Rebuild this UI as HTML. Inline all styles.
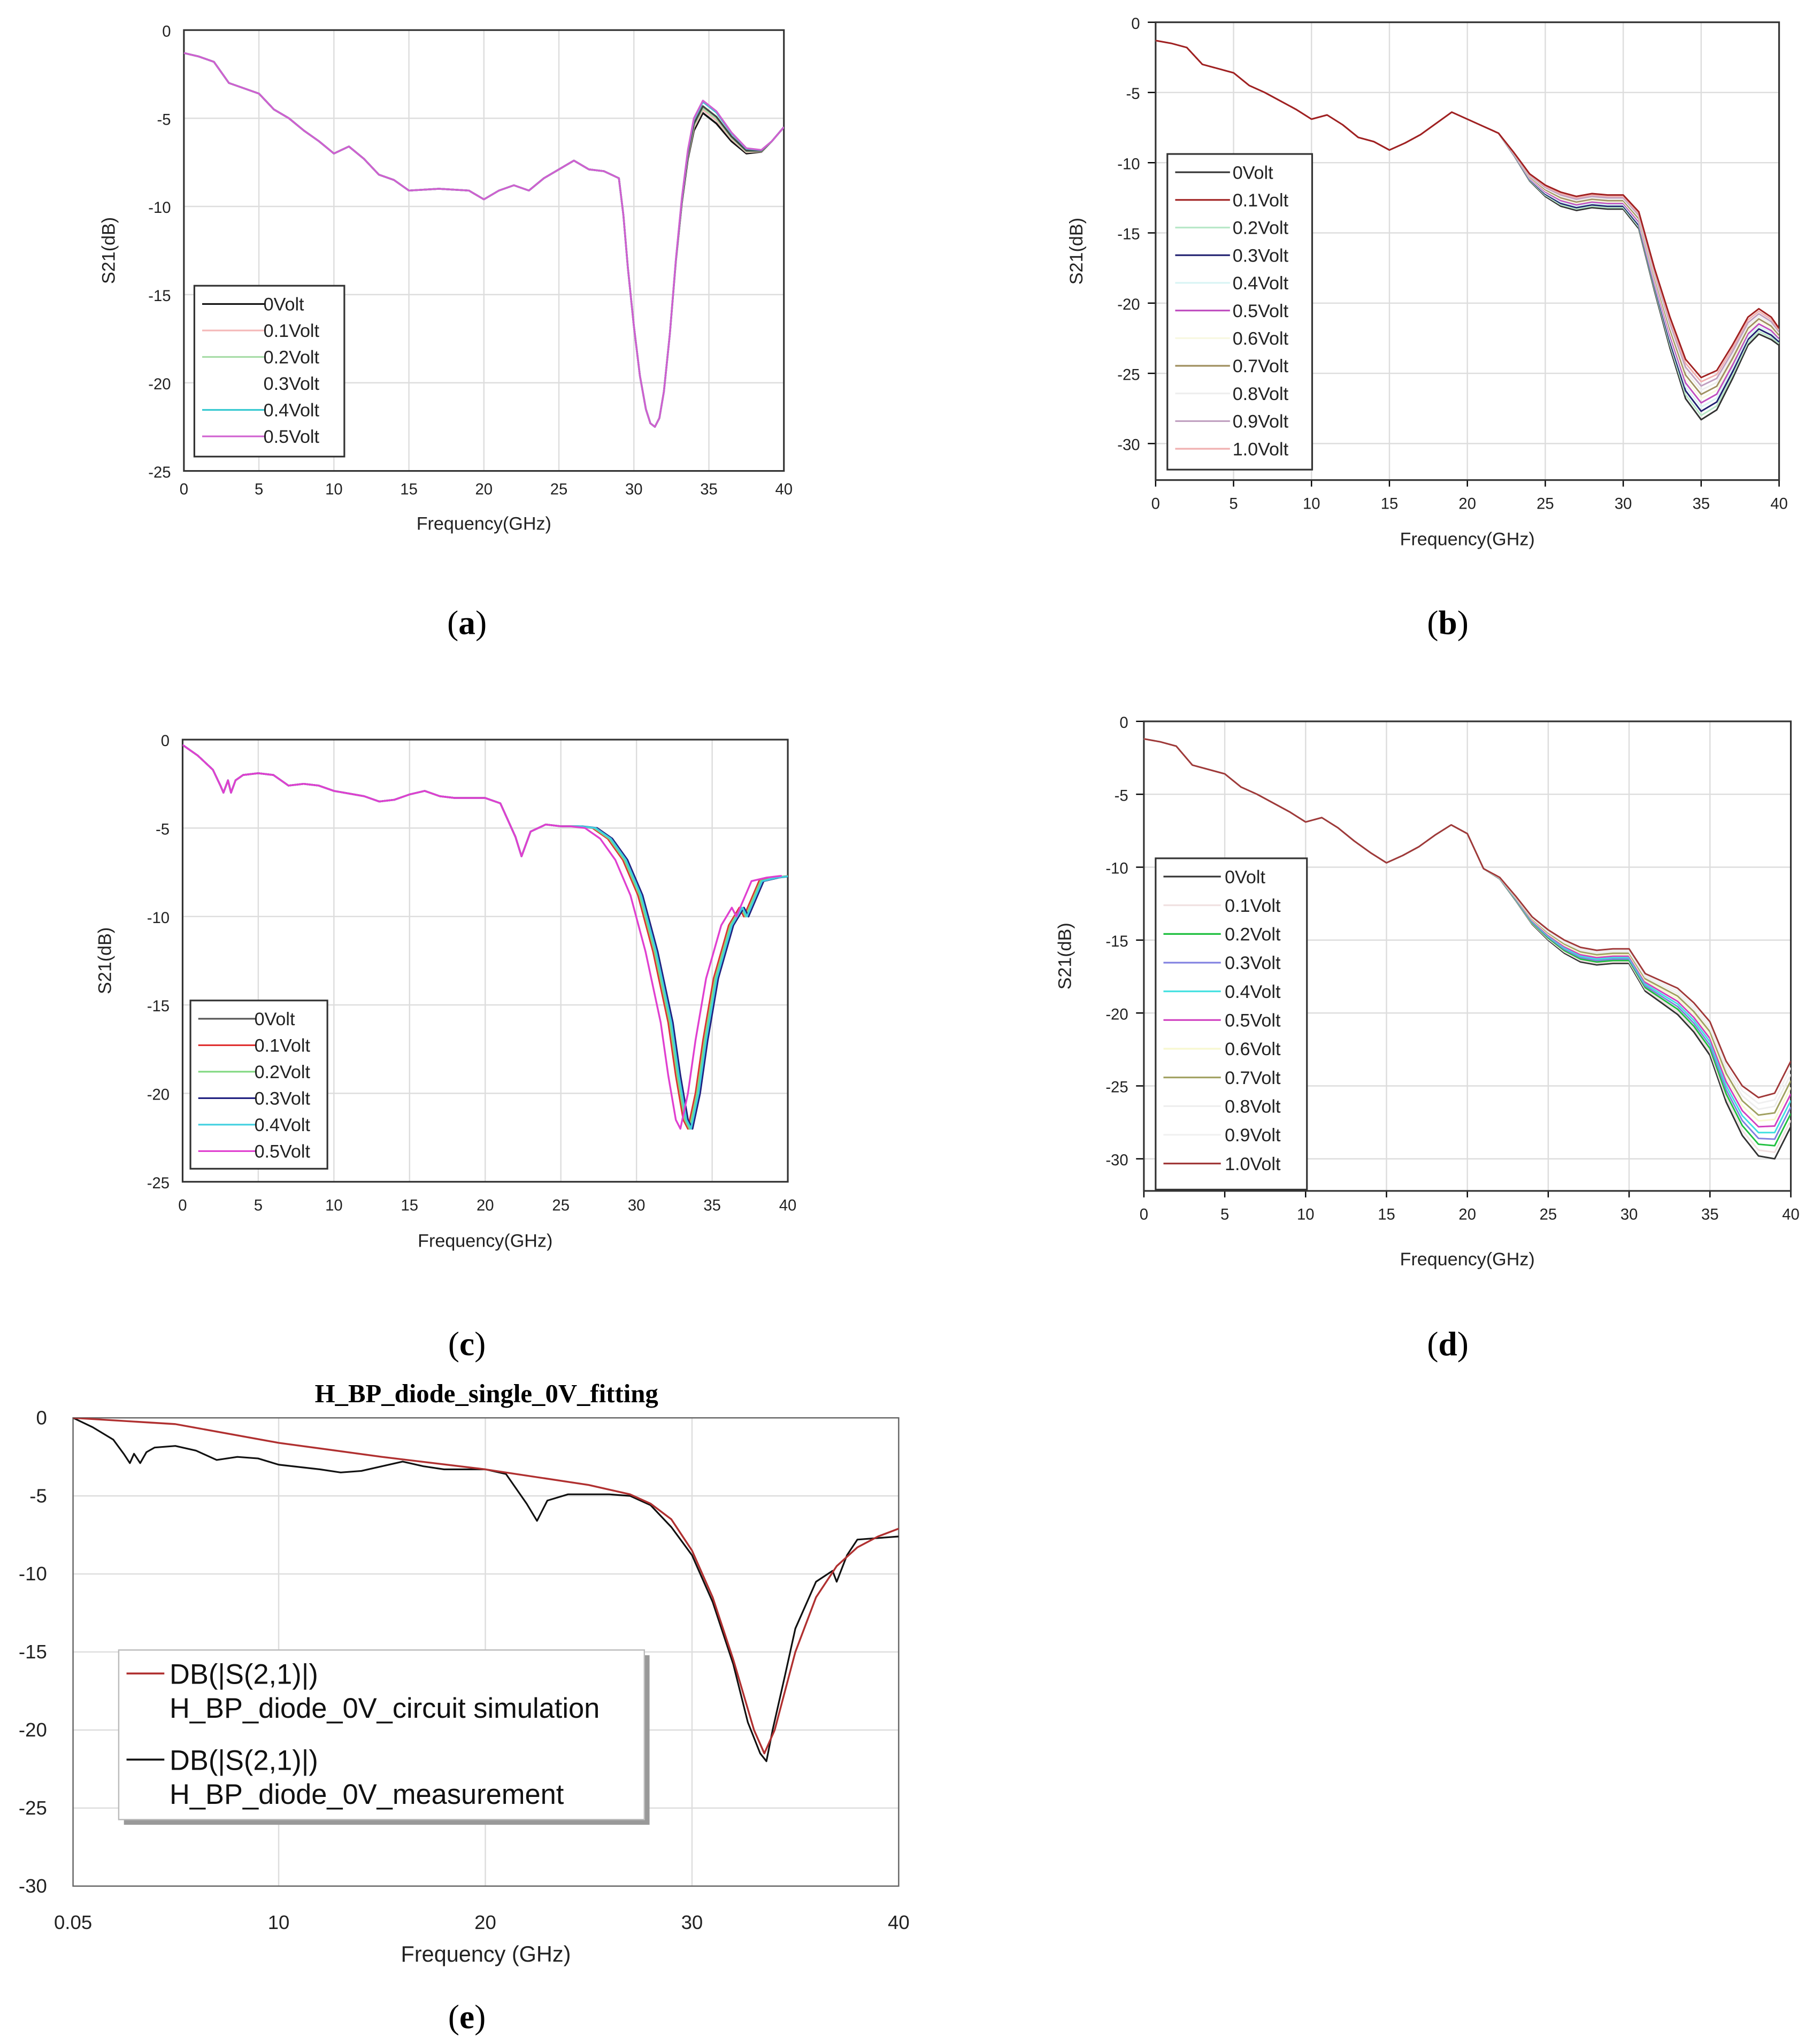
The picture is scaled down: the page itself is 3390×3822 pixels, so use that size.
<!DOCTYPE html>
<html><head><meta charset="utf-8">
<style>
html,body{margin:0;padding:0;background:#fff;}
svg{display:block;}
text{font-family:"Liberation Sans",Arial,sans-serif;}
.cap{font-family:"Liberation Serif",serif;font-size:26px;}
.ttl{font-family:"Liberation Serif",serif;}
</style></head>
<body>
<svg id="fig" width="3390" height="3822" viewBox="0 0 1390 1567" xmlns="http://www.w3.org/2000/svg">
<rect width="1390" height="1567" fill="#fff"/>
</svg>
<script>
// ---------- DATA ----------
// Panel (a)
const freqA = [0,1,2,3,4,5,6,7,8,9,10,11,12,13,14,15,17,19,20,21,22,23,24,25,26,27,28,29,29.3,29.6,30,30.4,30.8,31.1,31.4,31.7,32,32.4,32.8,33.2,33.6,34,34.6,35.5,36.5,37.5,38.5,39.2,40];
const valsA = [-1.3,-1.5,-1.8,-3,-3.3,-3.6,-4.5,-5.0,-5.7,-6.3,-7.0,-6.6,-7.3,-8.2,-8.5,-9.1,-9.0,-9.1,-9.6,-9.1,-8.8,-9.1,-8.4,-7.9,-7.4,-7.9,-8.0,-8.4,-10.5,-13.5,-16.8,-19.6,-21.5,-22.3,-22.5,-22.0,-20.5,-17.2,-13.0,-9.5,-6.8,-5.0,-4.0,-4.6,-5.8,-6.7,-6.8,-6.3,-5.5];
const spreadA = [0,0,0,0,0,0,0,0,0,0,0,0,0,0,0,0,0,0,0,0,0,0,0,0,0,0,0,0,0,0,0,0,0,0,0,0,0,0,0.1,0.3,0.5,0.7,0.7,0.7,0.5,0.3,0.1,0,0];
const seriesA = ["0Volt","0.1Volt","0.2Volt","0.3Volt","0.4Volt","0.5Volt"];
const levelA = [1,0.75,0.6,0.45,0.1,0];
const colorsA = ["#111","#f4b8b8","#a6dca6","#fff","#33c8d0","#d060d0"];

// Panel (b)
const freqB = [0,1,2,3,4,5,6,7,8,9,10,11,12,13,14,15,16,17,18,19,20,21,22,23,24,25,26,27,28,29,30,31,32,33,34,35,36,37,38,38.7,39.5,40];
const valsB = [-1.3,-1.5,-1.8,-3,-3.3,-3.6,-4.5,-5.0,-5.6,-6.2,-6.9,-6.6,-7.3,-8.2,-8.5,-9.1,-8.6,-8.0,-7.2,-6.4,-6.9,-7.4,-7.9,-9.3,-10.8,-11.6,-12.1,-12.4,-12.2,-12.3,-12.3,-13.5,-17.5,-21,-24,-25.3,-24.8,-23,-21,-20.4,-21,-21.8];
const spreadB = [0,0,0,0,0,0,0,0,0,0,0,0,0,0,0,0,0,0,0,0,0,0,0,0.2,0.5,0.8,1.0,1.0,1.0,1.0,1.0,1.2,1.6,2.2,2.8,3.0,2.8,2.4,2.0,1.8,1.6,1.2];
const seriesB = ["0Volt","0.1Volt","0.2Volt","0.3Volt","0.4Volt","0.5Volt","0.6Volt","0.7Volt","0.8Volt","0.9Volt","1.0Volt"];
const levelB = [1,0,0.9,0.8,0.7,0.6,0.5,0.4,0.3,0.2,0.1];
const colorsB = ["#333","#a02020","#b8e8c8","#202070","#d8f4f4","#c050c0","#f8f8e0","#a09060","#eee","#c0a0c0","#f0b0b0"];
const drawOrderB = [0,2,3,4,5,6,7,8,9,10,1];

// Panel (c)
const freqC = [0,1,2,2.5,2.7,3,3.2,3.5,4,5,6,7,8,9,10,12,13,14,15,16,17,18,19,20,21,22,22.4,23,24,25,26,27,28,29,30,31,32,32.5,33,33.3,33.8,34.3,35,36,36.7,37,37.5,38,39,40];
const valsC = [-0.3,-0.9,-1.7,-2.6,-3.0,-2.3,-3.0,-2.3,-2.0,-1.9,-2.0,-2.6,-2.5,-2.6,-2.9,-3.2,-3.5,-3.4,-3.1,-2.9,-3.2,-3.3,-3.3,-3.3,-3.6,-5.5,-6.6,-5.2,-4.8,-4.9,-4.9,-5.0,-5.6,-6.8,-8.8,-12,-16,-19,-21.5,-22,-20,-17,-13.5,-10.5,-9.5,-10,-9,-8,-7.8,-7.7];
const seriesC = ["0Volt","0.1Volt","0.2Volt","0.3Volt","0.4Volt","0.5Volt"];
const shiftC = [0.2,0.1,0.2,0.4,0.3,-0.4];
const colorsC = ["#555","#e03030","#80d880","#202080","#40d0e0","#e040d0"];

// Panel (d)
const freqD = [0,1,2,3,4,5,6,7,8,9,10,11,12,13,14,15,16,17,18,19,20,21,22,23,24,25,26,27,28,29,30,31,32,33,34,35,36,37,38,39,40];
const valsD = [-1.2,-1.4,-1.7,-3,-3.3,-3.6,-4.5,-5.0,-5.6,-6.2,-6.9,-6.6,-7.3,-8.2,-9.0,-9.7,-9.2,-8.6,-7.8,-7.1,-7.7,-10.1,-10.7,-12,-13.4,-14.3,-15.0,-15.5,-15.7,-15.6,-15.6,-17.3,-17.8,-18.3,-19.3,-20.6,-23.3,-25,-25.8,-25.5,-23.3];
const spreadD = [0,0,0,0,0,0,0,0,0,0,0,0,0,0,0,0,0,0,0,0,0,0,0.1,0.3,0.5,0.7,0.9,1.0,1.0,1.0,1.0,1.2,1.5,1.8,2.0,2.3,2.8,3.4,4.0,4.5,4.5];
const seriesD = ["0Volt","0.1Volt","0.2Volt","0.3Volt","0.4Volt","0.5Volt","0.6Volt","0.7Volt","0.8Volt","0.9Volt","1.0Volt"];
const levelD = [1,0.9,0.8,0.7,0.6,0.5,0.4,0.3,0.2,0.1,0];
const colorsD = ["#333","#f0e0e0","#20c040","#8080e0","#40e0e0","#d040c0","#f8f8d0","#a0a060","#eee","#f0f0f0","#a03838"];

// Panel (e)
const freqEsim = [0.05,5,10,15,20,25,27,28,29,30,31,32,33,33.5,34,35,36,37,38,39,40];
const valsEsim = [0,-0.4,-1.6,-2.5,-3.3,-4.3,-4.9,-5.5,-6.5,-8.5,-11.5,-15.5,-20,-21.5,-20,-15,-11.5,-9.5,-8.3,-7.6,-7.1];
const freqEmeas = [0.05,1,2,2.5,2.8,3,3.3,3.6,4,5,6,7,8,9,10,12,13,14,15,16,17,18,19,20,21,22,22.5,23,24,25,26,27,28,29,30,31,32,32.7,33.3,33.6,33.9,34.5,35,36,36.8,37,37.5,38,39,40];
const valsEmeas = [0,-0.6,-1.4,-2.3,-2.9,-2.3,-2.9,-2.2,-1.9,-1.8,-2.1,-2.7,-2.5,-2.6,-3.0,-3.3,-3.5,-3.4,-3.1,-2.8,-3.1,-3.3,-3.3,-3.3,-3.6,-5.5,-6.6,-5.3,-4.9,-4.9,-4.9,-5.0,-5.6,-7.0,-8.8,-11.8,-15.8,-19.5,-21.5,-22,-20,-16.5,-13.5,-10.5,-9.8,-10.5,-8.8,-7.8,-7.7,-7.6];
const ticksAC = [0,5,10,15,20,25,30,35,40];
const ticksYA = [0,-5,-10,-15,-20,-25];
const ticksYB = [0,-5,-10,-15,-20,-25,-30];
const ticksXE = [0.05,10,20,30,40];
const ticksXElbl = ["0.05","10","20","30","40"];
const ticksYE = [0,-5,-10,-15,-20,-25,-30];

// ---------- DRAWING ----------
const NS="http://www.w3.org/2000/svg";
const svg=document.getElementById('fig');
const defs=document.createElementNS(NS,'defs');svg.appendChild(defs);
function mk(tag,attrs,parent,txt){const e=document.createElementNS(NS,tag);for(const k in attrs)e.setAttribute(k,attrs[k]);if(txt!==undefined)e.textContent=txt;(parent||svg).appendChild(e);return e;}

function panel(p){
  const g=mk('g',{});
  
  
  const sx=f=>p.x0+(f-p.fmin)/(p.fmax-p.fmin)*(p.x1-p.x0);
  const sy=v=>p.y0+(v-p.vmax)/(p.vmin-p.vmax)*(p.y1-p.y0);
  p.sx=sx;p.sy=sy;
  const cp=mk('clipPath',{id:'clip-'+p.name},defs);
  mk('rect',{x:p.x0,y:p.y0,width:p.x1-p.x0,height:p.y1-p.y0},cp);
  p.xt.forEach((t,i)=>{const x=sx(t);
    const l=mk('line',{x1:x,x2:x,y1:p.y0,y2:p.y1,stroke:'#ddd','stroke-width':1},g);
    
    const tx=mk('text',{x:x,y:p.y1+p.xlOff,'font-size':p.fs,'text-anchor':'middle',fill:'#222'},g,p.xtl?p.xtl[i]:t);
    
    if(p.ticks) mk('line',{x1:x,x2:x,y1:p.y1,y2:p.y1+5,stroke:'#000'},g);
  });
  p.yt.forEach(t=>{const y=sy(t);
    const l=mk('line',{x1:p.x0,x2:p.x1,y1:y,y2:y,stroke:'#ddd','stroke-width':1},g);
    
    const tx=mk('text',{x:p.x0-p.ylOff,y:y+5,'font-size':p.fs,'text-anchor':'end',fill:'#222'},g,t);
    
    if(p.ticks) mk('line',{x1:p.x0-6,x2:p.x0,y1:y,y2:y,stroke:'#000'},g);
  });
  const fr=mk('rect',{x:p.x0,y:p.y0,width:p.x1-p.x0,height:p.y1-p.y0,fill:'none',stroke:p.frame||'#333','stroke-width':p.fw||1.3},g);
  
  if(p.xlabel){const t=mk('text',{x:(p.x0+p.x1)/2,y:p.xlY,'font-size':p.fs+2,'text-anchor':'middle',fill:'#222'},g,p.xlabel);
    }
  if(p.ylabel){const t=mk('text',{x:0,y:0,'font-size':p.fs+2,'text-anchor':'middle',fill:'#222',transform:`translate(${p.ylX},${(p.y0+p.y1)/2}) rotate(-90)`},g,p.ylabel);
    }
  p.lines=mk('g',{'clip-path':'url(#clip-'+p.name+')'},g);
  return g;
}
function line(g,p,fs,vs,color,w,name){
  let d='';fs.forEach((f,i)=>{d+=(i?'L':'M')+p.sx(f).toFixed(2)+','+p.sy(vs[i]).toFixed(2);});
  const e=mk('path',{d:d,fill:'none',stroke:color,'stroke-width':w,'stroke-linejoin':'round'},p.lines);
  
  
}
function legend(g,x,y,w,h,labels,colors,rowH,fs,lineLen,textX,name){
  const lg=mk('g',{},g);
  
  
  mk('rect',{x:x,y:y,width:w,height:h,fill:'#fff',stroke:'#333','stroke-width':1.3},lg);
  labels.forEach((lb,i)=>{const yy=y+14+i*rowH;
    mk('line',{x1:x+6,x2:x+6+lineLen,y1:yy,y2:yy,stroke:colors[i],'stroke-width':1.3},lg);
    const t=mk('text',{x:x+textX,y:yy+5,'font-size':fs,fill:'#222'},lg,lb);
    
  });
}
function caption(x,y,l){const t=mk('text',{x:x,y:y,'text-anchor':'middle',class:'cap'},svg);
  t.innerHTML='(<tspan font-weight="bold">'+l+'</tspan>)';
  }

// (a)
const pA={name:'panel-a',x0:141,x1:601,y0:23,y1:361,fmin:0,fmax:40,vmax:0,vmin:-25,xt:ticksAC,yt:ticksYA,fs:12,xlOff:18,ylOff:10,xlabel:'Frequency(GHz)',xlY:406,ylabel:'S21(dB)',ylX:88};
const gA=panel(pA);
seriesA.forEach((s,k)=>{const vs=valsA.map((v,i)=>v-spreadA[i]*levelA[k]);line(gA,pA,freqA,vs,k===3?'#444':colorsA[k],1.4,'series-a-'+s);});
legend(gA,149,219,115,131,seriesA,colorsA,20.3,14,48,53,'legend-a');
caption(358,486,'a');

// (b)
const pB={name:'panel-b',x0:886,x1:1364,y0:17,y1:368,fmin:0,fmax:40,vmax:0,vmin:-32.6,xt:ticksAC,yt:ticksYB,fs:12,xlOff:22,ylOff:12,xlabel:'Frequency(GHz)',xlY:418,ylabel:'S21(dB)',ylX:830,ticks:true};
const gB=panel(pB);
drawOrderB.forEach(k=>{const s=seriesB[k];const vs=valsB.map((v,i)=>v-spreadB[i]*levelB[k]);line(gB,pB,freqB,vs,colorsB[k],1.2,'series-b-'+s);});
legend(gB,895,118,111,242,seriesB,colorsB,21.2,14,42,50,'legend-b');
caption(1110,486,'b');

// (c)
const pC={name:'panel-c',x0:140,x1:604,y0:567,y1:906,fmin:0,fmax:40,vmax:0,vmin:-25,xt:ticksAC,yt:ticksYA,fs:12,xlOff:22,ylOff:10,xlabel:'Frequency(GHz)',xlY:956,ylabel:'S21(dB)',ylX:85};
const gC=panel(pC);
seriesC.forEach((s,k)=>{const fs=freqC.map((f,i)=>f<26?f:f+shiftC[k]);line(gC,pC,fs,valsC,colorsC[k],1.4,'series-c-'+s);});
legend(gC,146,767,105,129,seriesC,colorsC,20.3,14,44,49,'legend-c');
caption(358,1039,'c');

// (d)
const pD={name:'panel-d',x0:877,x1:1373,y0:553,y1:913,fmin:0,fmax:40,vmax:0,vmin:-32.2,xt:ticksAC,yt:ticksYB,fs:12,xlOff:22,ylOff:12,xlabel:'Frequency(GHz)',xlY:970,ylabel:'S21(dB)',ylX:821,ticks:true};
const gD=panel(pD);
seriesD.forEach((s,k)=>{const vs=valsD.map((v,i)=>v-spreadD[i]*levelD[k]);line(gD,pD,freqD,vs,colorsD[k],1.2,'series-d-'+s);});
legend(gD,886,658,116,254,seriesD,colorsD,22,14,44,53,'legend-d');
caption(1110,1039,'d');

// (e)
const pE={name:'panel-e',x0:56,x1:689,y0:1087,y1:1446,fmin:0.05,fmax:40,vmax:0,vmin:-30,xt:ticksXE,xtl:ticksXElbl,yt:ticksYE,fs:15,xlOff:33,ylOff:20,xlabel:'Frequency (GHz)',xlY:1504,frame:'#666',fw:1};
const gE=panel(pE);
const ttl=mk('text',{x:373,y:1075,'text-anchor':'middle','font-size':20,'font-weight':'bold',class:'ttl'},gE,'H_BP_diode_single_0V_fitting');

line(gE,pE,freqEmeas,valsEmeas,'#111',1.3,'series-measurement');
line(gE,pE,freqEsim,valsEsim,'#b03030',1.4,'series-simulation');
mk('rect',{x:95,y:1269,width:403,height:130,fill:'#999'},gE);
const lgE=mk('g',{},gE);


mk('rect',{x:91,y:1265,width:403,height:130,fill:'#fff',stroke:'#bbb'},lgE);
mk('line',{x1:97,x2:126,y1:1283,y2:1283,stroke:'#b03030','stroke-width':1.5},lgE);
mk('line',{x1:97,x2:126,y1:1349,y2:1349,stroke:'#111','stroke-width':1.5},lgE);
[['DB(|S(2,1)|)',1291],['H_BP_diode_0V_circuit simulation',1317],['DB(|S(2,1)|)',1357],['H_BP_diode_0V_measurement',1383]].forEach(r=>{
  const t=mk('text',{x:130,y:r[1],'font-size':21.5,fill:'#111'},lgE,r[0]);
  
});
caption(358,1555,'e');
</script>
</body></html>
